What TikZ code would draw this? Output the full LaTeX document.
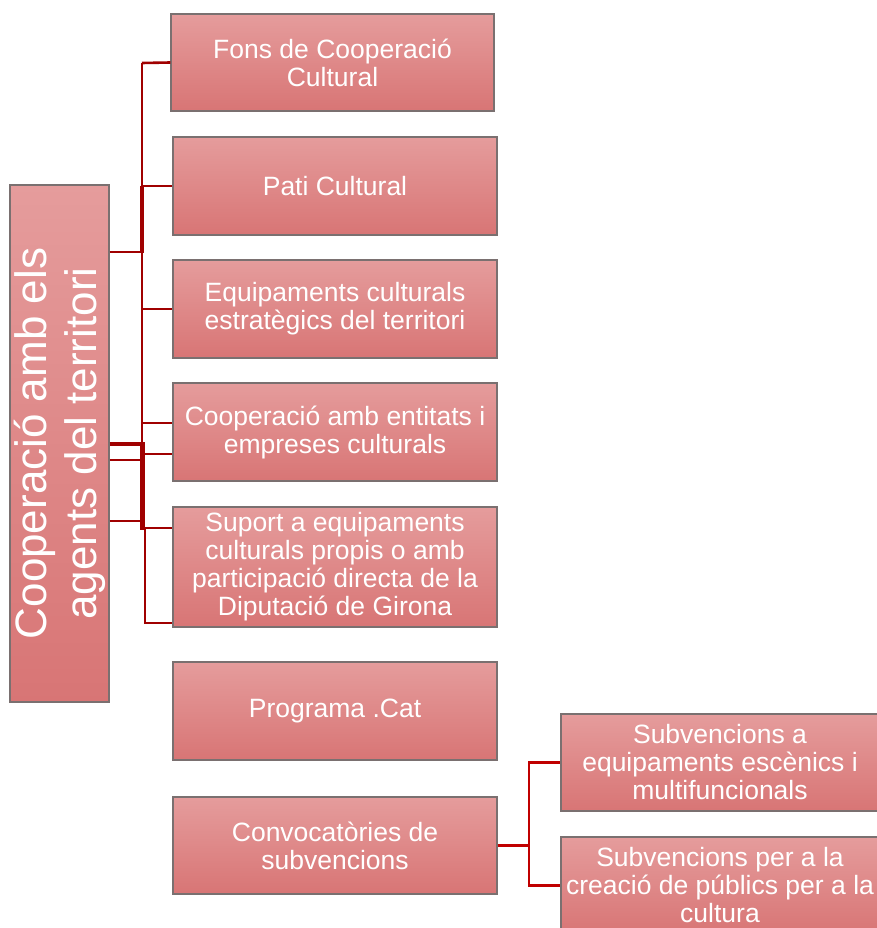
\documentclass[tikz,border=0pt]{standalone}
\usepackage{fontspec}
\setmainfont{Liberation Sans}
\definecolor{boxtop}{HTML}{E59C9C}
\definecolor{boxbot}{HTML}{D87575}
\definecolor{boxline}{HTML}{7A7070}
\definecolor{linkred}{HTML}{A00000}
\definecolor{linkred2}{HTML}{C00000}
\tikzset{
  topic/.style={draw=boxline, line width=1.2pt, top color=boxtop, bottom color=boxbot,
    text=white, align=center, inner sep=2pt, minimum width=324pt, minimum height=98pt,
    font=\fontsize{26.5}{28}\selectfont},
  link/.style={draw=linkred, line width=2.6pt},
  link2/.style={draw=linkred2, line width=2.6pt}
}
\begin{document}
\begin{tikzpicture}[x=1pt, y=-1pt]
\useasboundingbox (0,0) rectangle (876,928);

% Root
\node[topic, rotate=90, minimum width=517pt, minimum height=99pt,
  font=\fontsize{44}{50}\selectfont] (root) at (59.5,443.5)
  {Cooperació amb els\\agents del territori};

% Topics
\node[topic, minimum width=323pt, minimum height=97pt] (fons) at (332.5,62.5) {Fons de Cooperació\\Cultural};
\node[topic] (pati) at (335,186) {Pati Cultural};
\node[topic] (equip) at (335,309) {Equipaments culturals\\estratègics del territori};
\node[topic] (coop) at (335,432) {Cooperació amb entitats i\\empreses culturals};
\node[topic, minimum height=120pt] (suport) at (335,567) {Suport a equipaments\\culturals propis o amb\\participació directa de la\\Diputació de Girona};
\node[topic] (programa) at (335,711) {Programa .Cat};
\node[topic, minimum height=97pt] (convoc) at (335,845.5) {Convocatòries de\\subvencions};

% Subtopics
\node[topic, minimum width=318pt, minimum height=97pt] (subvA) at (720,762.5) {Subvencions a\\equipaments escènics i\\multifuncionals};
\node[topic, minimum width=318pt, minimum height=97pt] (subvB) at (720,885.5) {Subvencions per a la\\creació de públics per a la\\cultura};

% Trunk
\draw[link] (142,63) -- (fons.west);
\draw[link] (142,63) -- (142,530);
\draw[link] (142,186) -- (pati.west);
\draw[link] (142,309) -- (equip.west);
\draw[link] (143,423) -- (coop.west |- 0,423);
\draw[link] (143,454) -- (coop.west |- 0,454);
\draw[link] (142,528) -- (suport.west |- 0,528);
\draw[link] (145,528) |- (suport.west |- 0,623);
\draw[link, line width=4.5pt] (142,186) -- (142,253);
\draw[link, line width=4.5pt] (142.5,443) -- (142.5,530);

% Root stubs
\draw[link] (root.south |- 0,252) -- (142,252);
\draw[link, line width=3.5pt] (root.south |- 0,444) -- (145,444);
\draw[link] (root.south |- 0,460) -- (140,460);
\draw[link] (root.south |- 0,521) -- (143,521);

% Convocatories
\coordinate (fork) at (529,845.5);
\draw[link2] (convoc.east) -- (fork);
\draw[link2] (fork) |- (subvA.west);
\draw[link2] (fork) |- (subvB.west);
\end{tikzpicture}
\end{document}
